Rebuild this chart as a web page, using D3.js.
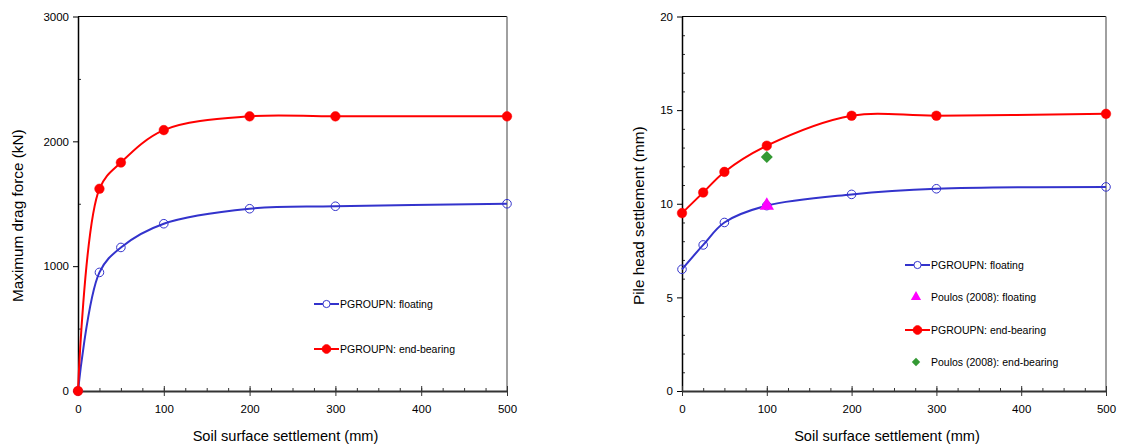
<!DOCTYPE html>
<html><head><meta charset="utf-8">
<script src="https://cdn.jsdelivr.net/npm/d3@7"></script>
<style>body{margin:0;background:#fff}svg{display:block}text{font-family:"Liberation Sans",Arial,sans-serif;fill:#000}</style>
</head><body>
<svg id="c" width="1123" height="445"></svg>
<script>
const xValues = [0, 25, 50, 100, 200, 300, 500];
const xTicks = [0, 100, 200, 300, 400, 500];
// Left chart: maximum drag force (kN)
const dragFloating = [0, 950, 1150, 1340, 1460, 1480, 1500];
const dragEndBearing = [0, 1620, 1830, 2090, 2200, 2200, 2200];
const dragTicks = [0, 1000, 2000, 3000];
// Right chart: pile head settlement (mm)
const settleFloating = [6.5, 7.8, 9.0, 9.9, 10.5, 10.8, 10.9];
const settleEndBearing = [9.5, 10.6, 11.7, 13.1, 14.7, 14.7, 14.8];
const poulosX = [100];
const poulosFloating = [9.9];
const poulosEndBearing = [12.5];
const settleTicks = [0, 5, 10, 15, 20];
const xLabel = "Soil surface settlement (mm)";
const BLUE = "#3333cc", RED = "#ff0000", MAG = "#ff00ff", GREEN = "#339933";

const svg = d3.select("#c");
const diamond = s => `M0,${-s}L${s},0L0,${s}L${-s},0Z`;

function panel(cfg) {
  const g = svg.append("g");
  const x = d3.scaleLinear().domain([0, 500]).range([cfg.x0, cfg.x1]);
  const y = d3.scaleLinear().domain(cfg.yDomain).range([cfg.y0, cfg.y1]);
  g.append("line").attr("x1", x(0)).attr("x2", x(500)).attr("y1", y.range()[1]).attr("y2", y.range()[1]).attr("stroke", "#000").attr("stroke-width", 1);
  g.append("line").attr("x1", x(500)).attr("x2", x(500)).attr("y1", y.range()[1]).attr("y2", y.range()[0]).attr("stroke", "#808080").attr("stroke-width", 1.5);
  g.append("g").attr("transform", `translate(${x(0)},0)`)
    .call(d3.axisRight(y).tickValues(cfg.yMinor).tickSize(3).tickFormat(""))
    .call(a => a.select(".domain").remove())
    .call(a => a.selectAll("line").attr("stroke", "#333"));
  g.append("g").attr("transform", `translate(${x(0)},0)`)
    .call(d3.axisLeft(y).tickValues(cfg.yTicks).tickSize(5).tickSizeOuter(0).tickPadding(4).tickFormat(d3.format("d")))
    .call(a => a.select(".domain").attr("stroke", "#000").attr("stroke-width", 1.5))
    .call(a => a.selectAll("text").attr("font-size", 11.5).attr("font-family", "Liberation Sans, Arial"));
  g.append("g").attr("transform", `translate(0,${y.range()[0]})`)
    .call(d3.axisBottom(x).tickValues(d3.range(25, 500, 25)).tickSize(3).tickFormat(""))
    .call(a => a.select(".domain").remove())
    .call(a => a.selectAll("line").attr("y1", -3).attr("y2", 1).attr("stroke", "#333"));
  g.append("g").attr("transform", `translate(0,${y.range()[0]})`)
    .call(d3.axisBottom(x).tickValues(xTicks).tickSize(5).tickSizeOuter(0).tickPadding(9).tickFormat(d3.format("d")))
    .call(a => a.select(".domain").attr("stroke", "#333").attr("stroke-width", 2))
    .call(a => a.selectAll("line").attr("y1", -5).attr("y2", 5).attr("stroke", "#333"))
    .call(a => a.selectAll("text").attr("font-size", 11.5).attr("font-family", "Liberation Sans, Arial"));
  g.append("text").attr("x", (x(0) + x(500)) / 2 - 7).attr("y", 441).attr("text-anchor", "middle").attr("font-size", 14.6).text(xLabel);
  g.append("text").attr("transform", `translate(${cfg.yLabelX},${(y.range()[0] + y.range()[1]) / 2 + 12}) rotate(-90)`)
    .attr("text-anchor", "middle").attr("font-size", cfg.yLabelSize).text(cfg.yLabel);
  const line = d3.line().x((d, i) => x(xValues[i])).y(d => y(d)).curve(d3.curveCatmullRom.alpha(0.5));
  cfg.series.forEach(s => {
    g.append("path").attr("d", line(s.values)).attr("fill", "none").attr("stroke", s.color).attr("stroke-width", 2);
    g.selectAll(null).data(s.values).enter().append("circle")
      .attr("cx", (d, i) => x(xValues[i])).attr("cy", d => y(d))
      .attr("r", s.filled ? 4.8 : 4.3)
      .attr("fill", s.filled ? s.color : "none").attr("stroke", s.color).attr("stroke-width", s.filled ? 0.5 : 1);
  });
  (cfg.points || []).forEach(p => {
    g.selectAll(null).data(p.values).enter().append("path")
      .attr("transform", (d, i) => `translate(${x(poulosX[i])},${y(d)})`)
      .attr("d", p.diamond ? diamond(p.size) : d3.symbol().type(d3.symbolTriangle).size(p.size)).attr("fill", p.color);
  });
  return {g, x, y};
}

function legend(g, items, lx, ys) {
  items.forEach((it, i) => {
    const yy = ys[i];
    if (it.line) {
      g.append("line").attr("x1", lx).attr("x2", lx + 25).attr("y1", yy).attr("y2", yy).attr("stroke", it.color).attr("stroke-width", 2);
      g.append("circle").attr("cx", lx + 12.5).attr("cy", yy).attr("r", it.filled ? 4.3 : 3.6)
        .attr("fill", it.filled ? it.color : "#fff").attr("stroke", it.color).attr("stroke-width", 1);
    } else {
      g.append("path").attr("transform", `translate(${lx + 11},${yy})`)
        .attr("d", it.diamond ? diamond(it.size) : d3.symbol().type(d3.symbolTriangle).size(it.size)).attr("fill", it.color);
    }
    g.append("text").attr("x", lx + 26).attr("y", yy + 3.8).attr("font-size", 10.5).text(it.label);
  });
}

const L = panel({
  x0: 78, x1: 507, y0: 391, y1: 16.5, yDomain: [0, 3000],
  yTicks: dragTicks, yMinor: [500, 1500, 2500],
  yLabel: "Maximum drag force (kN)", yLabelX: 23, yLabelSize: 15.3,
  series: [
    {values: dragFloating, color: BLUE, filled: false},
    {values: dragEndBearing, color: RED, filled: true}
  ]
});
legend(L.g, [
  {line: true, color: BLUE, filled: false, label: "PGROUPN: floating"},
  {line: true, color: RED, filled: true, label: "PGROUPN: end-bearing"}
], 314, [304, 349]);

const R = panel({
  x0: 682, x1: 1106, y0: 391, y1: 16.5, yDomain: [0, 20],
  yTicks: settleTicks, yMinor: d3.range(1, 20).filter(v => v % 5 !== 0),
  yLabel: "Pile head settlement (mm)", yLabelX: 644, yLabelSize: 15.3,
  series: [
    {values: settleFloating, color: BLUE, filled: false},
    {values: settleEndBearing, color: RED, filled: true}
  ],
  points: [
    {values: poulosFloating, color: MAG, diamond: false, size: 90},
    {values: poulosEndBearing, color: GREEN, diamond: true, size: 6}
  ]
});
legend(R.g, [
  {line: true, color: BLUE, filled: false, label: "PGROUPN: floating"},
  {line: false, color: MAG, diamond: false, size: 45, label: "Poulos (2008): floating"},
  {line: true, color: RED, filled: true, label: "PGROUPN: end-bearing"},
  {line: false, color: GREEN, diamond: true, size: 4.2, label: "Poulos (2008): end-bearing"}
], 905, [265, 297, 330, 362]);
</script>
</body></html>
